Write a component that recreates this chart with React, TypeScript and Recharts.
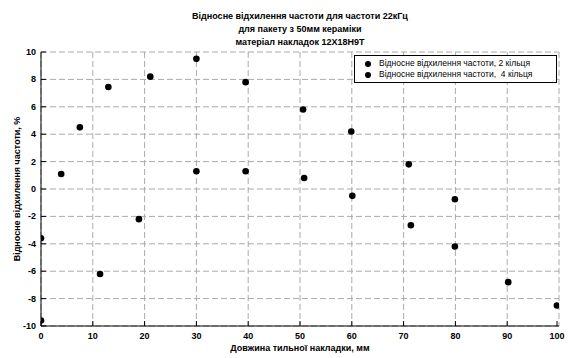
import { ScatterChart, Scatter, XAxis, YAxis, CartesianGrid, Legend } from "recharts"

const titleLines = [
  "Відносне відхилення частоти для частоти 22кГц",
  "для пакету з 50мм кераміки",
  "матеріал накладок 12Х18Н9Т",
]
const xLabel = "Довжина тильної накладки, мм"
const yLabel = "Відносне відхилення частоти, %"

const xTicks = [0, 10, 20, 30, 40, 50, 60, 70, 80, 90, 100]
const yTicks = [-10, -8, -6, -4, -2, 0, 2, 4, 6, 8, 10]

// 2 кільця
const rings2X = [0, 7.5, 13, 21.1, 30, 39.5, 50.6, 59.9, 71, 79.9, 90.2]
const rings2Y = [-3.6, 4.5, 7.45, 8.2, 9.5, 7.8, 5.8, 4.2, 1.8, -0.75, -6.8]
// 4 кільця
const rings4X = [0, 3.9, 11.4, 18.9, 30, 39.5, 50.8, 60.1, 71.4, 79.9, 99.6]
const rings4Y = [-9.6, 1.1, -6.2, -2.2, 1.3, 1.3, 0.8, -0.5, -2.65, -4.2, -8.5]

const series = [
  { name: "Відносне відхилення частоти, 2 кільця", xs: rings2X, ys: rings2Y },
  { name: "Відносне відхилення частоти,  4 кільця", xs: rings4X, ys: rings4Y },
]

const font = "'Liberation Sans', Arial, sans-serif"

const Dot = (props: any) => <circle cx={props.cx} cy={props.cy} r={3.3} fill="#000" />

const BottomTick = ({ x, y, payload }: any) => (
  <g>
    <line x1={x} y1={y} x2={x} y2={y - 5} stroke="#000" />
    <text x={x} y={y + 13} textAnchor="middle" fontSize={9} fontWeight="bold" fontFamily={font} fill="#000">
      {payload.value}
    </text>
  </g>
)

const LeftTick = ({ x, y, payload }: any) => (
  <g>
    <line x1={x} y1={y} x2={x + 5} y2={y} stroke="#000" />
    <text x={x - 5} y={y + 3} textAnchor="end" fontSize={9} fontWeight="bold" fontFamily={font} fill="#000">
      {payload.value}
    </text>
  </g>
)

const TopTick = ({ x, y }: any) => <line x1={x} y1={y} x2={x} y2={y + 5} stroke="#000" />
const RightTick = ({ x, y }: any) => <line x1={x} y1={y} x2={x - 5} y2={y} stroke="#000" />

const LegendBox = () => (
  <div
    style={{
      border: "1px solid #000",
      background: "#fff",
      padding: "2px 6px 2px 10px",
      fontFamily: font,
      fontSize: 8.5,
      lineHeight: "11px",
      width: 185,
    }}
  >
    {series.map((s) => (
      <div key={s.name} style={{ display: "flex", alignItems: "center", whiteSpace: "pre" }}>
        <span style={{ display: "inline-block", width: 6, height: 6, borderRadius: 3, background: "#000", marginRight: 8 }} />
        {s.name}
      </div>
    ))}
  </div>
)

export default function App() {
  return (
    <div style={{ position: "relative", width: 569, height: 358, background: "#fff", fontFamily: font }}>
      <style>{"body{margin:0}"}</style>
      <div
        style={{
          position: "absolute",
          top: 10,
          left: 41,
          width: 518,
          textAlign: "center",
          fontSize: 9,
          fontWeight: "bold",
          lineHeight: "13px",
        }}
      >
        {titleLines.map((t) => (
          <div key={t}>{t}</div>
        ))}
      </div>
      <ScatterChart width={569} height={358} margin={{ top: 52, right: 10, bottom: 0, left: 0 }}>
        <CartesianGrid stroke="#aaa" strokeDasharray="6 3" />
        <XAxis
          type="number"
          dataKey="x"
          domain={[0, 100]}
          ticks={xTicks}
          height={32}
          tickSize={0}
          tickMargin={0}
          tick={<BottomTick />}
          axisLine={{ stroke: "#000" }}
          allowDataOverflow
        />
        <XAxis
          xAxisId="top"
          orientation="top"
          type="number"
          domain={[0, 100]}
          ticks={xTicks}
          height={0}
          tickSize={0}
          tickMargin={0}
          tick={<TopTick />}
          axisLine={{ stroke: "#000" }}
          allowDataOverflow
        />
        <YAxis
          type="number"
          dataKey="y"
          domain={[-10, 10]}
          ticks={yTicks}
          width={41}
          tickSize={0}
          tickMargin={0}
          tick={<LeftTick />}
          axisLine={{ stroke: "#000" }}
          allowDataOverflow
        />
        <YAxis
          yAxisId="right"
          orientation="right"
          type="number"
          domain={[-10, 10]}
          ticks={yTicks}
          width={0}
          tickSize={0}
          tickMargin={0}
          tick={<RightTick />}
          axisLine={{ stroke: "#000" }}
          allowDataOverflow
        />
        <Legend
          layout="horizontal"
          align="center"
          verticalAlign="middle"
          wrapperStyle={{ top: 55, left: 354, width: 201 }}
          content={<LegendBox />}
        />
        {series.map((s) => (
          <Scatter
            key={s.name}
            name={s.name}
            data={s.xs.map((x, i) => ({ x, y: s.ys[i] }))}
            fill="#000"
            shape={<Dot />}
            isAnimationActive={false}
          />
        ))}
      </ScatterChart>
      <div
        style={{
          position: "absolute",
          top: 343,
          left: 41,
          width: 518,
          textAlign: "center",
          fontSize: 9,
          fontWeight: "bold",
        }}
      >
        {xLabel}
      </div>
      <div
        style={{
          position: "absolute",
          left: 17,
          top: 189,
          transform: "translate(-50%, -50%) rotate(-90deg)",
          whiteSpace: "nowrap",
          fontSize: 9,
          fontWeight: "bold",
        }}
      >
        {yLabel}
      </div>
    </div>
  )
}
